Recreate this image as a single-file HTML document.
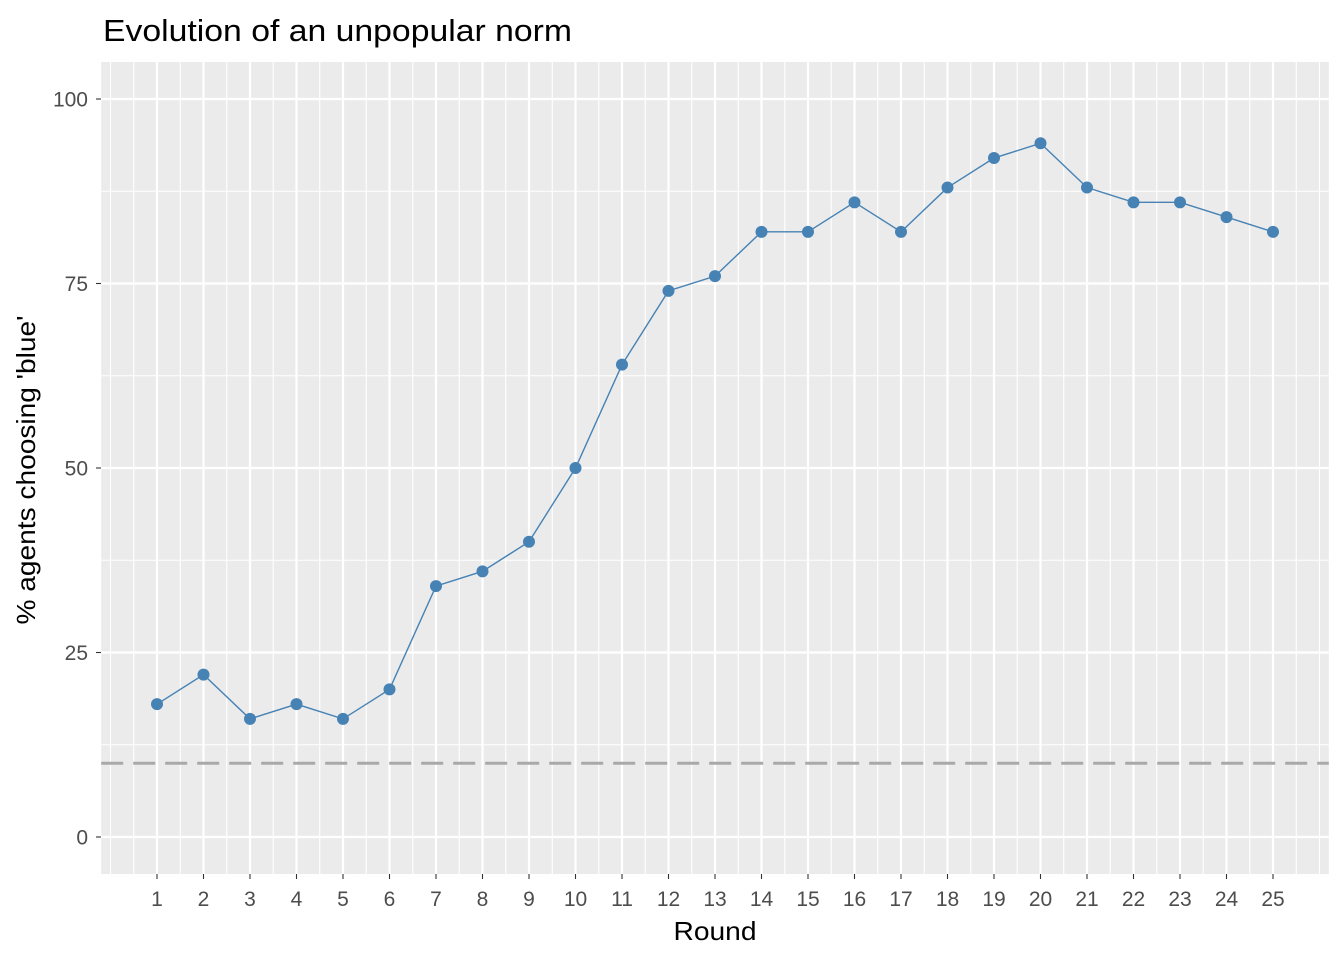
<!DOCTYPE html>
<html><head><meta charset="utf-8"><style>body{margin:0;background:#fff}</style></head>
<body>
<svg width="1344" height="960" xmlns="http://www.w3.org/2000/svg" font-family="Liberation Sans, Arial, sans-serif">
<rect width="1344" height="960" fill="#fff"/>
<rect x="101.2" y="62" width="1227.6" height="812" fill="#ebebeb"/>
<g stroke="#fff" stroke-width="1.1">
<line x1="101.2" x2="1328.8" y1="191.25" y2="191.25"/>
<line x1="101.2" x2="1328.8" y1="375.75" y2="375.75"/>
<line x1="101.2" x2="1328.8" y1="560.25" y2="560.25"/>
<line x1="101.2" x2="1328.8" y1="744.75" y2="744.75"/>
<line x1="133.75" x2="133.75" y1="62" y2="874"/>
<line x1="1296.25" x2="1296.25" y1="62" y2="874"/>
<line x1="110.5" x2="110.5" y1="62" y2="874"/>
<line x1="1319.5" x2="1319.5" y1="62" y2="874"/>
</g>
<g id="vminor" stroke="#fff" stroke-width="1.1"></g>
<g stroke="#fff" stroke-width="2.2">
<line x1="101.2" x2="1328.8" y1="99" y2="99"/>
<line x1="101.2" x2="1328.8" y1="283.5" y2="283.5"/>
<line x1="101.2" x2="1328.8" y1="468" y2="468"/>
<line x1="101.2" x2="1328.8" y1="652.5" y2="652.5"/>
<line x1="101.2" x2="1328.8" y1="837" y2="837"/>
</g>
<g id="vmajor" stroke="#fff" stroke-width="2.2"></g>
<line x1="101.2" x2="1328.8" y1="763.2" y2="763.2" stroke="#a9a9a9" stroke-width="3" stroke-dasharray="22,10"/>
<polyline id="ln" fill="none" stroke="#4682b4" stroke-width="1.4"/>
<g id="pts" fill="#4682b4"></g>
<g id="xt" font-size="21" fill="#4d4d4d" text-anchor="middle"></g>
<g stroke="#333" stroke-width="1.1" id="xtk"></g>
<g font-size="21" fill="#4d4d4d" text-anchor="end">
<text x="88" y="106.5">100</text><text x="88" y="291">75</text><text x="88" y="475.5">50</text><text x="88" y="660">25</text><text x="88" y="844.5">0</text>
</g>
<g stroke="#333" stroke-width="1.1">
<line x1="96" x2="101" y1="99" y2="99"/><line x1="96" x2="101" y1="283.5" y2="283.5"/><line x1="96" x2="101" y1="468" y2="468"/><line x1="96" x2="101" y1="652.5" y2="652.5"/><line x1="96" x2="101" y1="837" y2="837"/>
</g>
<text x="103" y="41" font-size="31" fill="#000" textLength="469" lengthAdjust="spacingAndGlyphs">Evolution of an unpopular norm</text>
<text x="715" y="940" font-size="26" fill="#000" text-anchor="middle" textLength="83" lengthAdjust="spacingAndGlyphs">Round</text>
<text transform="translate(35,470) rotate(-90)" font-size="26" fill="#000" text-anchor="middle" textLength="309" lengthAdjust="spacingAndGlyphs">% agents choosing 'blue'</text>
<script>
var d=[18,22,16,18,16,20,34,36,40,50,64,74,76,82,82,86,82,88,92,94,88,86,86,84,82];
var ns="http://www.w3.org/2000/svg",pts=[];
function el(p,t,a){var e=document.createElementNS(ns,t);for(var k in a)e.setAttribute(k,a[k]);document.getElementById(p).appendChild(e);return e;}
for(var i=0;i<25;i++){var x=157+46.5*i,y=837-7.38*d[i];pts.push(x+","+y);
el("pts","circle",{cx:x,cy:y,r:6});
el("vmajor","line",{x1:x,x2:x,y1:62,y2:874});
if(i<24)el("vminor","line",{x1:x+23.25,x2:x+23.25,y1:62,y2:874});
el("xtk","line",{x1:x,x2:x,y1:874,y2:879});
el("xt","text",{x:x,y:906}).textContent=i+1;}
document.getElementById("ln").setAttribute("points",pts.join(" "));
</script>
</svg>
</body></html>
